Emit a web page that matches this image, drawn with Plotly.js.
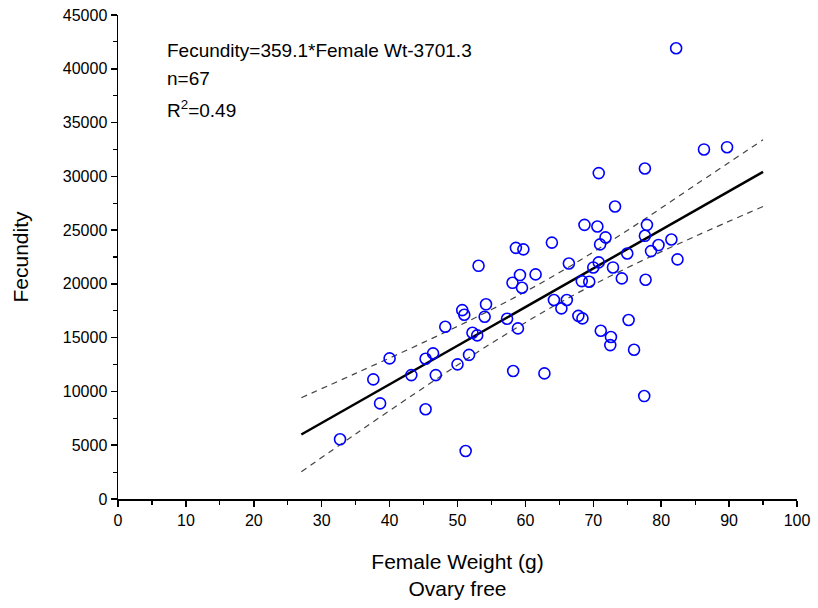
<!DOCTYPE html>
<html>
<head>
<meta charset="utf-8">
<script src="https://cdn.plot.ly/plotly-3.0.1.min.js"></script>
<style>html,body{margin:0;padding:0;background:#fff;}#chart{width:818px;height:608px;}</style>
</head>
<body>
<div id="chart"></div>
<script>
// Observed data: female weight (g) and fecundity
const femaleWeight = [32.7, 37.6, 38.6, 40.0, 43.2, 45.3, 45.3, 46.4, 46.8, 48.2,
  50.0, 50.7, 51.0, 51.2, 51.7, 52.2, 52.9, 53.1, 54.2, 54.0,
  57.3, 58.2, 58.1, 58.6, 59.7, 59.2, 59.5, 58.9, 61.5, 62.8,
  63.9, 64.2, 66.1, 65.3, 66.4, 67.8, 68.4, 68.3, 69.4, 68.7,
  70.6, 70.8, 70.8, 70.0, 71.0, 71.8, 72.9, 73.2, 71.1, 72.6,
  72.5, 74.2, 75.0, 75.2, 76.0, 77.5, 77.6, 77.9, 77.6, 77.7,
  78.5, 79.6, 81.5, 82.4, 82.2, 86.3, 89.7];
const fecundity = [5550, 11120, 8890, 13070, 11520, 8340, 13040, 13540, 11520, 16010,
  12520, 17560, 17130, 4460, 13400, 15460, 15210, 21680, 18100, 16940,
  16760, 11900, 20100, 23350, 23210, 20820, 19640, 15860, 20880, 11680,
  23840, 18500, 18500, 17720, 21900, 17030, 16790, 20260, 20200, 25490,
  25340, 30300, 22000, 21530, 23670, 24320, 21530, 27200, 15640, 15060,
  14310, 20510, 22830, 16640, 13880, 9570, 30730, 25490, 24470, 20380,
  23050, 23610, 24130, 22280, 41910, 32500, 32710];

// Fitted line (from the equation shown) and confidence band
const slope = 359.1;
const intercept = -3701.3;
const fitX = [27, 95];
const bandX = [27, 35, 45, 55, 65, 75, 85, 95];
const bandUpper = [9420, 11680, 14560, 17610, 21050, 24960, 29180, 33400];
const bandLower = [2530, 6050, 10350, 14480, 18230, 21500, 24420, 27200];

const xTicks = [0, 10, 20, 30, 40, 50, 60, 70, 80, 90, 100];
const yTicks = [0, 5000, 10000, 15000, 20000, 25000, 30000, 35000, 40000, 45000];

const fitY = fitX.map(x => slope * x + intercept);

const traces = [
  {x: bandX, y: bandUpper, type: 'scatter', mode: 'lines', line: {color: '#444', width: 1.2, dash: '6px,5px', shape: 'spline'}, hoverinfo: 'skip'},
  {x: bandX, y: bandLower, type: 'scatter', mode: 'lines', line: {color: '#444', width: 1.2, dash: '6px,5px', shape: 'spline'}, hoverinfo: 'skip'},
  {x: fitX, y: fitY, type: 'scatter', mode: 'lines', line: {color: '#000', width: 2.5}},
  {x: femaleWeight, y: fecundity, type: 'scatter', mode: 'markers',
   marker: {symbol: 'circle-open', size: 11, color: '#0000FF', line: {width: 1.6, color: '#0000FF'}}}
];

const fnt = {family: 'Arial, "Liberation Sans", sans-serif', color: '#000'};

const layout = {
  width: 818, height: 608,
  margin: {l: 118, r: 21, t: 15, b: 109},
  paper_bgcolor: '#fff', plot_bgcolor: '#fff',
  showlegend: false,
  font: Object.assign({size: 16}, fnt),
  xaxis: {
    range: [0, 100], tickvals: xTicks, ticktext: xTicks.map(String),
    showgrid: false, zeroline: false, showline: true, linecolor: '#000', linewidth: 1.5,
    ticks: 'outside', ticklen: 6, tickwidth: 1.5, tickcolor: '#000',
    minor: {dtick: 5, tick0: 0, ticks: 'outside', ticklen: 4, tickwidth: 1.2, tickcolor: '#000', showgrid: false},
    tickfont: Object.assign({size: 16}, fnt),
    title: {text: 'Female Weight (g)<br>Ovary free', font: Object.assign({size: 21}, fnt), standoff: 26}
  },
  yaxis: {
    range: [0, 45000], tickvals: yTicks, ticktext: yTicks.map(String),
    showgrid: false, zeroline: false, showline: true, linecolor: '#000', linewidth: 1.5,
    ticks: 'outside', ticklen: 6, tickwidth: 1.5, tickcolor: '#000',
    minor: {dtick: 2500, tick0: 0, ticks: 'outside', ticklen: 4, tickwidth: 1.2, tickcolor: '#000', showgrid: false},
    tickfont: Object.assign({size: 16}, fnt),
    title: {text: 'Fecundity', font: Object.assign({size: 21}, fnt), standoff: 28}
  },
  annotations: [
    {xref: 'paper', yref: 'paper', x: 0.069, y: 0.926, xanchor: 'left', yanchor: 'middle', showarrow: false,
     text: 'Fecundity=359.1*Female Wt-3701.3', font: Object.assign({size: 19}, fnt)},
    {xref: 'paper', yref: 'paper', x: 0.069, y: 0.868, xanchor: 'left', yanchor: 'middle', showarrow: false,
     text: 'n=67', font: Object.assign({size: 19}, fnt)},
    {xref: 'paper', yref: 'paper', x: 0.069, y: 0.806, xanchor: 'left', yanchor: 'middle', showarrow: false,
     text: 'R<sup>2</sup>=0.49', font: Object.assign({size: 19}, fnt)}
  ]
};

Plotly.newPlot('chart', traces, layout, {displayModeBar: false, staticPlot: true});
</script>
</body>
</html>
